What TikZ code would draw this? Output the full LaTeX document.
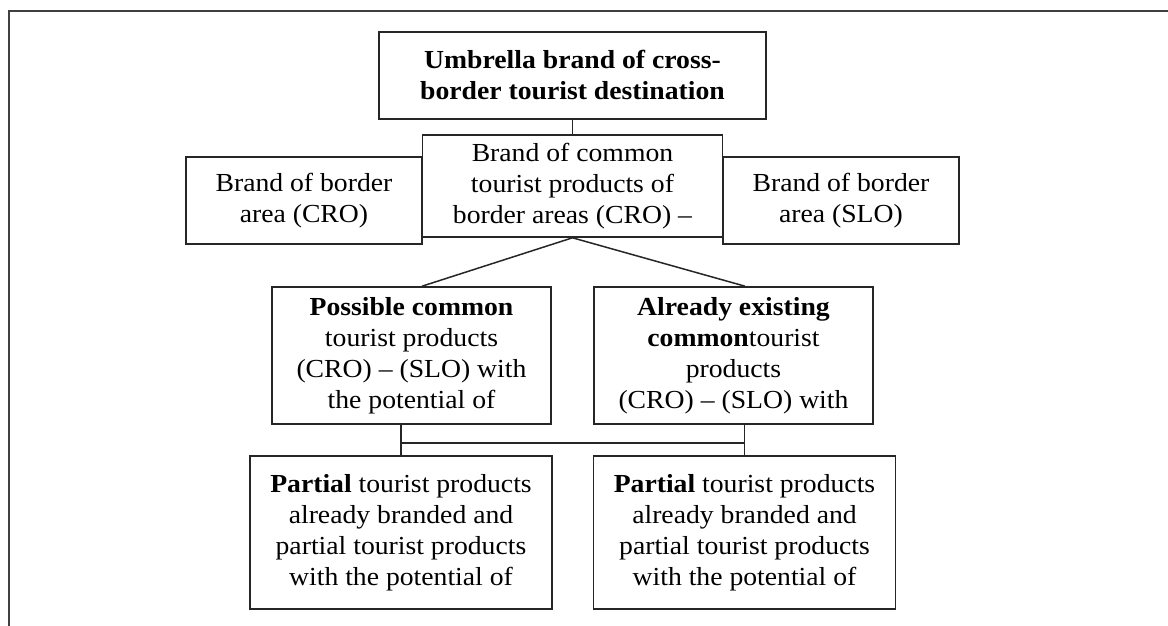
\documentclass[tikz,border=0pt]{standalone}
\usepackage{fontspec}
\setmainfont[FakeStretch=1.065]{Liberation Serif}
\usetikzlibrary{
    calc,
    %positioning,
    shapes,
}

\begin{document}
\begin{tikzpicture}[
        x=1pt, y=-1pt,
        brandbox/.style={rectangle, draw=black!85, line width=1.6pt, fill=white, align=center, inner sep=0pt,
                         font=\fontsize{26pt}{31pt}\selectfont},
        sidebox/.style={brandbox, minimum width=236pt, minimum height=87pt},
        prodbox/.style={brandbox, minimum width=279pt, minimum height=137pt},
        partbox/.style={brandbox, minimum width=302pt, minimum height=153pt},
        link/.style={draw=black!85, line width=1.5pt},
        frameline/.style={draw=black!75, line width=1.6pt},
        ]
        \useasboundingbox (0,0) rectangle (1168,626);
        % frame round the figure
        \coordinate (FBL) at (9,626);
        \coordinate (FTL) at (9,11);
        \coordinate (FTR) at (1168,11);
        \draw[frameline] (FBL) -- (FTL) -- (FTR);
        % brands
        \node[brandbox, minimum width=387pt, minimum height=87pt] (UMB) at (572.5,75.5)
            {\textbf{Umbrella brand of cross-}\\\textbf{border tourist destination}};
        \node[sidebox] (CRO) at (304,200.5)
            {Brand of border\\area (CRO)};
        \node[sidebox] (SLO) [right of=CRO, node distance=537pt]
            {Brand of border\\area (SLO)};
        \node[brandbox, minimum width=300pt, minimum height=102pt] (COM) [below of=UMB, node distance=110.5pt]
            {Brand of common\\tourist products of\\border areas (CRO) --};
        % common products
        \node[prodbox] (POS) at (411.5,355.5)
            {\textbf{Possible common}\\tourist products\\(CRO) -- (SLO) with\\the potential of};
        \node[prodbox] (EXI) [right of=POS, node distance=322pt]
            {\textbf{Already existing}\\\textbf{common}tourist\\products\\(CRO) -- (SLO) with};
        % partial products
        \node[partbox] (PAR1) at (401,532.5)
            {\textbf{Partial} tourist products\\already branded and\\partial tourist products\\with the potential of};
        \node[partbox] (PAR2) [right of=PAR1, node distance=343.5pt]
            {\textbf{Partial} tourist products\\already branded and\\partial tourist products\\with the potential of};
        % connectors
        \draw[link] (UMB.south) -- (COM.north);
        \draw[link] (COM.south) -- ($(POS.north)+(10.5,0)$);
        \draw[link] (COM.south) -- ($(EXI.north)+(11.5,0)$);
        \coordinate (BAR1) at ($(PAR1.north)+(0,-12)$);
        \coordinate (BAR2) at ($(PAR2.north)+(0,-12)$);
        \draw[link] (PAR1.north |- POS.south) -- (PAR1.north);
        \draw[link] (PAR2.north |- EXI.south) -- (PAR2.north);
        \draw[link] (BAR1) -- (BAR2);
    \end{tikzpicture}
\end{document}
